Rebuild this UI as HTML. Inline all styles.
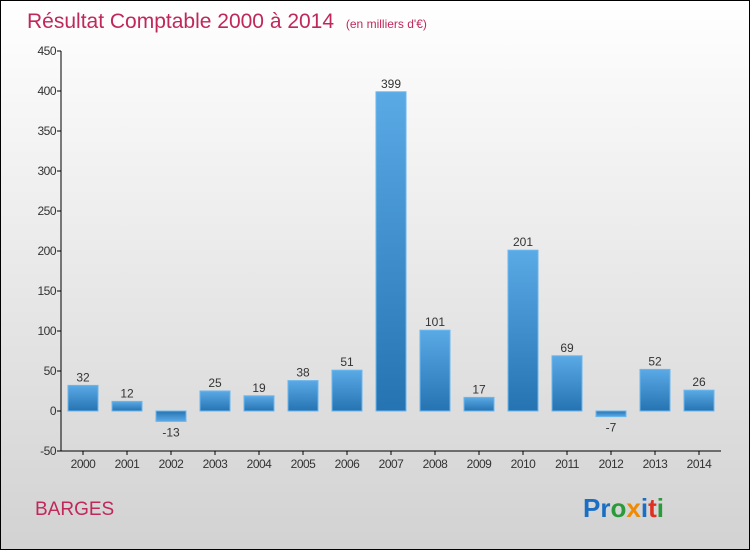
<!DOCTYPE html>
<html><head><meta charset="utf-8"><style>
body{margin:0}
#c{width:748px;height:548px;border:1px solid #000;background:linear-gradient(#fff,#d2d2d2);position:relative;font-family:"Liberation Sans",sans-serif;overflow:hidden}
</style></head><body>
<div id="c">
<svg id="s" width="748" height="548" style="position:absolute;left:0;top:0">
<defs><linearGradient id="g" x1="0" y1="0" x2="0" y2="1"><stop offset="0" stop-color="#5aaae6"/><stop offset="1" stop-color="#2673b2"/></linearGradient>
<linearGradient id="gn" x1="0" y1="1" x2="0" y2="0"><stop offset="0" stop-color="#5aaae6"/><stop offset="1" stop-color="#2673b2"/></linearGradient></defs>
<text x="26" y="27" font-size="21" fill="#c0285a">Résultat Comptable 2000 à 2014 <tspan font-size="12" dx="6">(en milliers d'€)</tspan></text>
<text x="34" y="514" font-size="19" fill="#c0285a">BARGES</text>
<text x="582" y="516" font-size="26" font-weight="bold"><tspan fill="#1a6fc4">Pr</tspan><tspan fill="#2a9a3a">o</tspan><tspan fill="#f08a00">x</tspan><tspan fill="#1a6fc4">i</tspan><tspan fill="#e03020">t</tspan><tspan fill="#2a9a3a">i</tspan></text>
<g id="plot"></g>
</svg>
</div>
<script>
const years=["2000","2001","2002","2003","2004","2005","2006","2007","2008","2009","2010","2011","2012","2013","2014"];
const values=[32,12,-13,25,19,38,51,399,101,17,201,69,-7,52,26];
const yTicks=[-50,0,50,100,150,200,250,300,350,400,450];
const NS="http://www.w3.org/2000/svg";
const plot=document.getElementById('plot');
const y=v=>410-v*0.8;
const x=i=>82+i*44;
function el(t,a){const e=document.createElementNS(NS,t);for(const k in a)e.setAttribute(k,a[k]);plot.appendChild(e);return e;}
let ax=el('line',{x1:60,y1:50,x2:60,y2:450,stroke:'#000'});


let bx=el('line',{x1:60,y1:450,x2:720,y2:450,stroke:'#000'});


yTicks.forEach(t=>{
  el('line',{x1:56,x2:60,y1:y(t),y2:y(t),stroke:'#000'});
  const tx=el('text',{x:55,y:y(t)+4,'font-size':12,'text-anchor':'end',fill:'#333','letter-spacing':'-0.5'});
  tx.textContent=t;
  
  
});
values.forEach((v,i)=>{
  const top=v>=0?y(v):y(0),h=Math.abs(y(v)-y(0));
  const r=el('rect',{x:x(i)-15,y:top,width:30,height:Math.max(h,1),fill:v>=0?'url(#g)':'url(#gn)',stroke:'#6bb6ee','stroke-width':1});
  
  
  el('line',{x1:x(i),x2:x(i),y1:450,y2:454,stroke:'#000'});
  const xl=el('text',{x:x(i),y:467,'font-size':12,'text-anchor':'middle',fill:'#333','letter-spacing':'-0.5'});
  xl.textContent=years[i];
  
  
  const vl=el('text',{x:x(i),y:v>=0?y(v)-4:y(v)+15,'font-size':12,'text-anchor':'middle',fill:'#333'});
  vl.textContent=v;
  
  
});
</script>
</body></html>
